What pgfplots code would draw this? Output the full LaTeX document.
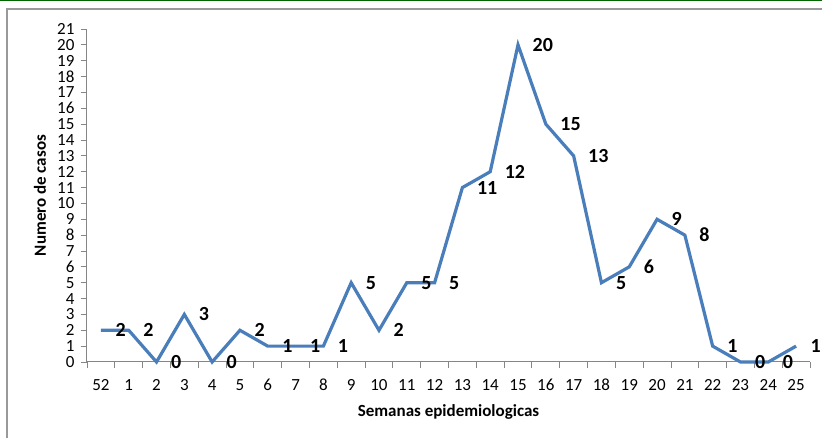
\documentclass[border=0pt]{standalone}
\usepackage{fontspec}
\setmainfont{Carlito}
\usepackage{pgfplots}
\usepackage{pgfplotstable}
\pgfplotsset{compat=1.18}
\definecolor{serie}{RGB}{74,126,187}
\definecolor{eje}{RGB}{134,134,134}

% semana (posicion), casos
\pgfplotstableread{
x y
0 2
1 2
2 0
3 3
4 0
5 2
6 1
7 1
8 1
9 5
10 2
11 5
12 5
13 11
14 12
15 20
16 15
17 13
18 5
19 6
20 9
21 8
22 1
23 0
24 0
25 1
}\casos

\begin{document}
\begin{tikzpicture}
\useasboundingbox (0pt,0pt) rectangle (822pt,438pt);
\fill[white] (0pt,0pt) rectangle (822pt,438pt);
\draw[black!40,line width=1.2pt] (7pt,0pt) -- (7pt,429pt) -- (822pt,429pt);
\draw[green!40!black,line width=1.5pt] (0pt,437.3pt) -- (822pt,437.3pt);
\begin{axis}[
    at={(87pt,76pt)}, anchor=south west,
    scale only axis, width=723pt, height=333pt,
    xmin=-0.5, xmax=25.5, ymin=0, ymax=21,
    axis x line*=bottom, axis y line*=left,
    axis line style={eje, line width=1pt},
    clip=false,
    /pgf/number format/assume math mode=true,
    tick align=outside,
    major tick length=6pt, minor tick length=6pt,
    tick style={eje, line width=0.9pt},
    xtick={0,...,25},
    xticklabels={52,1,2,3,4,5,6,7,8,9,10,11,12,13,14,15,16,17,18,19,20,21,22,23,24,25},
    major x tick style={draw=none},
    minor xtick={-0.5,0.5,...,25.5},
    ytick={0,...,21},
    ticklabel style={font=\fontsize{17}{19}\selectfont},
    xticklabel style={text height=11pt, text depth=1pt, yshift=-8pt},
    yticklabel style={xshift=-3pt},
    xlabel={Semanas epidemiologicas},
    ylabel={Numero de casos},
    xlabel style={font=\bfseries\fontsize{17}{19}\selectfont,
        at={(axis description cs:0.5,-0.15)}, anchor=center},
    ylabel style={font=\bfseries\fontsize{17}{19}\selectfont,
        at={(axis description cs:-0.065,0.5)}, anchor=center},
    nodes near coords,
    nodes near coords align={anchor=west},
    every node near coord/.append style={
        font=\bfseries\fontsize{20}{22}\selectfont,
        anchor=west, inner sep=0pt, xshift=13pt, text=black},
]
\addplot[serie, line width=3.2pt, mark=none, line join=miter] table[x=x, y=y, meta=y] {\casos};
\end{axis}
\end{tikzpicture}
\end{document}
